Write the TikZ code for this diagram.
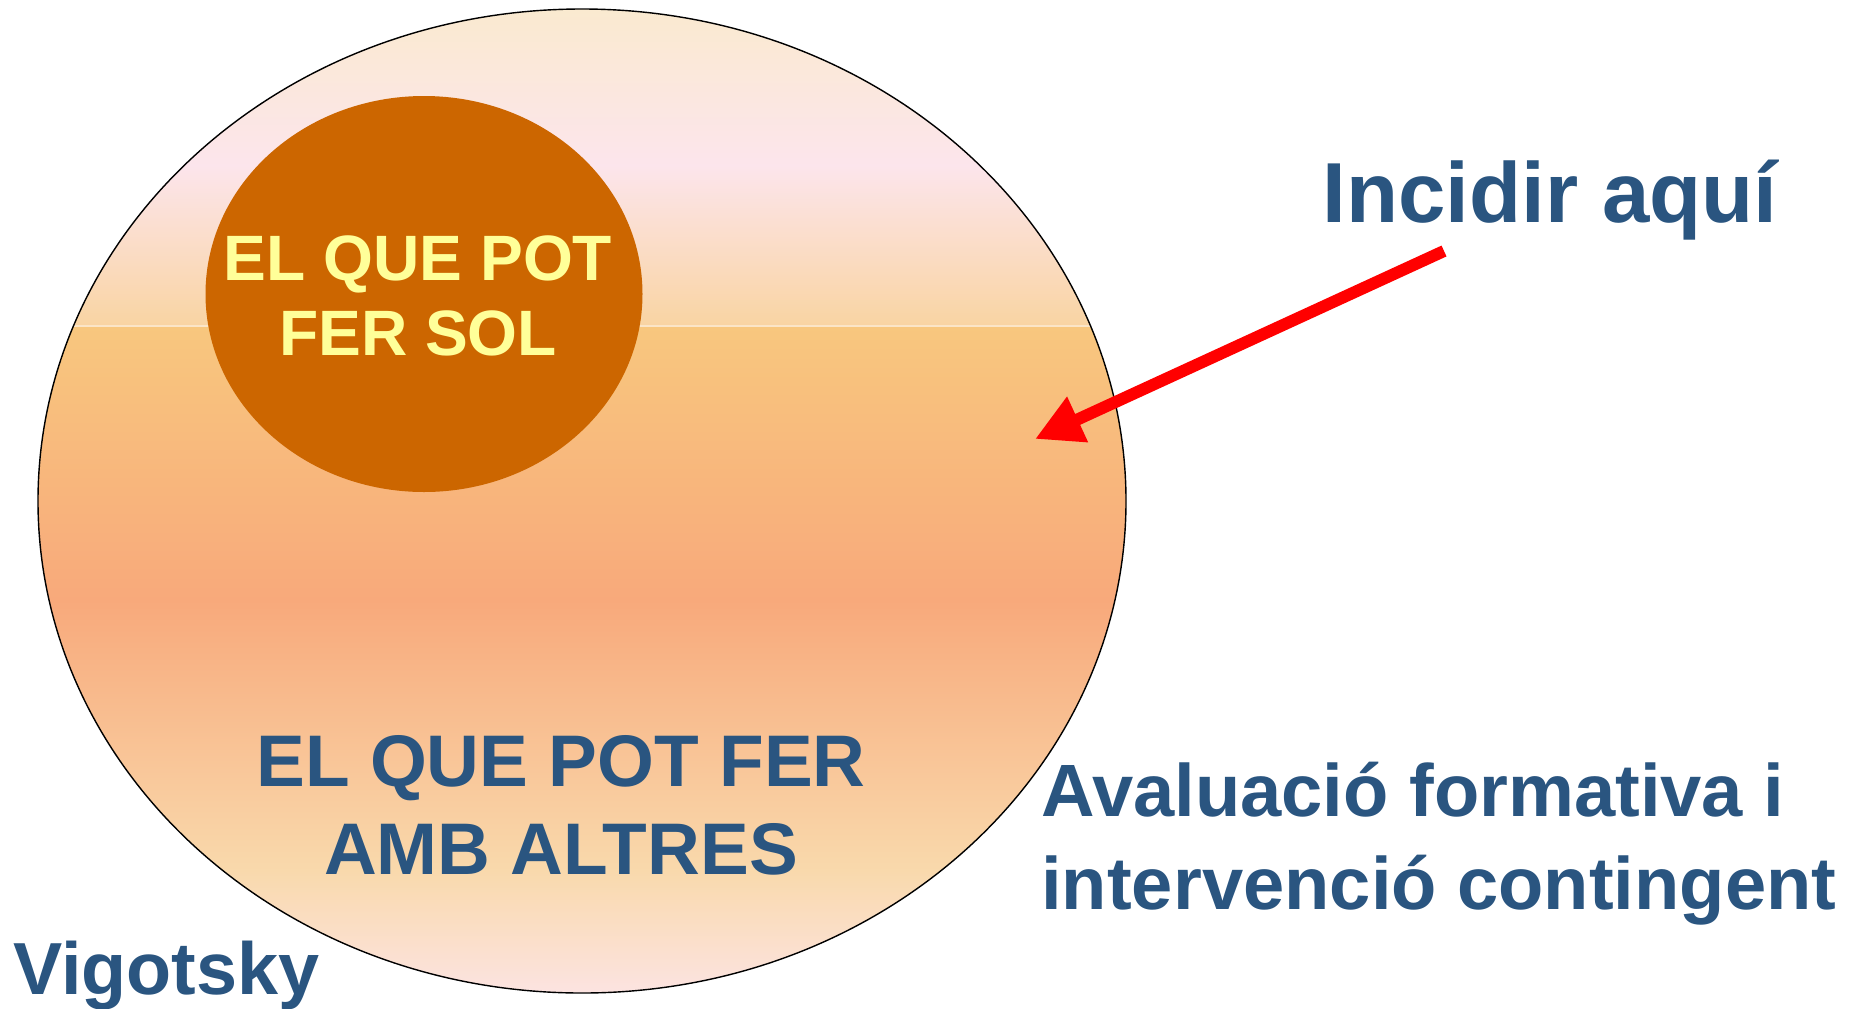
\documentclass[tikz,border=0pt]{standalone}
\usepackage{fontspec}
\setmainfont{Liberation Sans}
\usetikzlibrary{arrows.meta}
\definecolor{blaufosc}{RGB}{42,85,128}
\definecolor{groc}{RGB}{255,255,153}
\definecolor{taronja}{RGB}{204,102,0}
\definecolor{crema}{RGB}{250,234,206}
\definecolor{rosat}{RGB}{252,229,236}
\definecolor{presseg}{RGB}{249,212,162}
\definecolor{mel}{RGB}{248,199,126}
\definecolor{salmo}{RGB}{248,169,123}
\definecolor{sorra}{RGB}{249,217,172}
\definecolor{rosafons}{RGB}{252,228,228}
\tikzset{
	textblau/.style 2 args={text=blaufosc, inner sep=0pt, align=center, font=\bfseries\fontsize{#1}{#2}\selectfont},
	textgroc/.style={text=groc, inner sep=0pt, align=center, font=\bfseries\fontsize{36.5}{43}\selectfont}
}
\begin{document}
\begin{tikzpicture}[x=0.02cm, y=-0.02cm]
			\useasboundingbox (0,0) rectangle (1862,1008);
			% zona gran
			\begin{scope}
				\clip (582,501) ellipse (544 and 492);
				\shade[top color=crema, bottom color=rosat] (30,0) rectangle (1130,166);
				\shade[top color=rosat, bottom color=presseg] (30,165) rectangle (1130,327);
				\shade[top color=mel, bottom color=salmo] (30,326) rectangle (1130,601);
				\shade[top color=salmo, bottom color=sorra] (30,600) rectangle (1130,871);
				\shade[top color=sorra, bottom color=rosafons] (30,870) rectangle (1130,1000);
				\draw[white!40!presseg, line width=0.6pt] (30,326) -- (1130,326);
			\end{scope}
			\draw[line width=0.8pt] (582,501) ellipse (544 and 492);
			% zona petita
			\fill[taronja] (424,294) ellipse (218.5 and 198);
			
			\node[textgroc] (sol) at (418,296) {EL QUE POT\\FER SOL};
			\node[textblau={41.6}{49.9}] (altres) at (561,805) {EL QUE POT FER\\AMB ALTRES};
			\node[textblau={48.5}{58}] (incidir) at (1550,200) {Incidir aquí};
			\node[textblau={42.2}{53}, align=left, anchor=west] (avaluacio) at (1041,844) {Avaluació formativa i\\intervenció contingent};
			\node[textblau={42}{50}, anchor=base west] (vigotsky) at (13,994) {Vigotsky};
			
			\coordinate (inici) at (1444,251);
			\coordinate (punta) at (1035,439);
			\draw[red, line width=6.8pt, -{Triangle[length=26.7pt,width=26.7pt]}] (inici) -- (punta);
		\end{tikzpicture}
\end{document}
